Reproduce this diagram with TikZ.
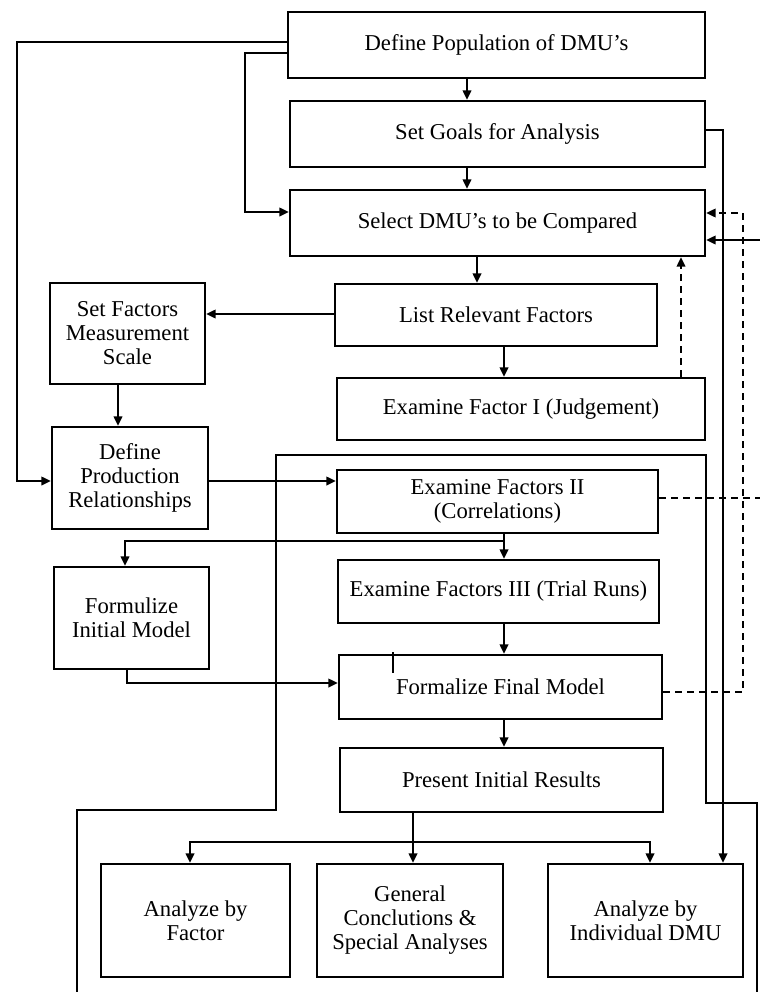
\documentclass[tikz,border=0pt]{standalone}
\usepackage{fontspec}
\setmainfont{Liberation Serif}
\usetikzlibrary{arrows.meta}
\begin{document}
\begin{tikzpicture}[x=0.75pt,y=-0.75pt,
  box/.style={draw,line width=1.9pt,align=center,inner sep=2pt,
    font=\fontsize{17}{18}\selectfont},
  conn/.style={line width=1.1pt},
  arr/.style={conn,-{Triangle[length=7pt,width=6.5pt]}},
  dashln/.style={conn,dash pattern=on 5pt off 4pt},
  thinln/.style={line width=0.9pt}]
\useasboundingbox (0,0) rectangle (760,992);
% boxes
\node[box,minimum width=312.75pt,minimum height=49.5pt] (pop) at (496.5,45) {Define Population of DMU’s};
\node[box,minimum width=311.25pt,minimum height=49.5pt] (goals) at (497.5,134) {Set Goals for Analysis};
\node[box,minimum width=311.25pt,minimum height=49.5pt] (sel) at (497.5,223) {Select DMU’s to be Compared};
\node[box,minimum width=241.5pt,minimum height=46.5pt] (list) at (496,315) {List Relevant Factors};
\node[box,minimum width=276pt,minimum height=46.5pt] (ex1) at (521,409) {Examine Factor I (Judgement)};
\node[box,minimum width=240.75pt,minimum height=47.25pt] (ex2) at (497.5,501.5) {Examine Factors II\\(Correlations)};
\node[box,minimum width=240.75pt,minimum height=47.25pt] (ex3) at (498.5,591.5) {Examine Factors III (Trial Runs)};
\node[box,minimum width=242.25pt,minimum height=48pt] (final) at (500.5,687) {Formalize Final Model};
\node[box,minimum width=242.25pt,minimum height=48pt] (pres) at (501.5,780) {Present Initial Results};
\node[box,minimum width=141.75pt,minimum height=84.75pt] (afac) at (195.5,920.5) {Analyze by\\Factor};
\node[box,minimum width=139.5pt,minimum height=84.75pt] (gen) at (410,920.5) {General\\Conclutions \&\\Special Analyses};
\node[box,minimum width=146.25pt,minimum height=84.75pt] (aind) at (645.5,920.5) {Analyze by\\Individual DMU};
\node[box,minimum width=116.25pt,minimum height=75.75pt] (sfm) at (127.5,333.5) {Set Factors\\Measurement\\Scale};
\node[box,minimum width=117pt,minimum height=76.5pt] (dpr) at (130,478) {Define\\Production\\Relationships};
\node[box,minimum width=116.25pt,minimum height=76.5pt] (fim) at (131.5,618) {Formulize\\Initial Model};
% helper coordinates
\coordinate (split) at (413,842);
\coordinate (j2) at (504,541);
\coordinate (r2) at (760,498);
\coordinate (r1) at (760,240);
% main vertical chain
\draw[arr] (pop.south -| 467,0) -- (goals.north -| 467,0);
\draw[arr] (goals.south -| 467,0) -- (sel.north -| 467,0);
\draw[arr] (sel.south -| 477,0) -- (list.north -| 477,0);
\draw[arr] (list.south -| 504,0) -- (ex1.north -| 504,0);
\draw[arr] (ex2.south -| 504,0) -- (ex3.north -| 504,0);
\draw[arr] (ex3.south -| 504,0) -- (final.north -| 504,0);
\draw[arr] (final.south -| 504,0) -- (pres.north -| 504,0);
% results split
\draw[conn] (pres.south -| split) -- (split);
\draw[arr] (split) -- (gen.north -| split);
\draw[arr] (split) -| (afac.north -| 190,0);
\draw[arr] (split) -| (aind.north -| 650,0);
% left side
\draw[arr] (pop.west |- 0,42) -- (17,42) |- (dpr.west |- 0,481);
\draw[arr] (pop.west |- 0,53) -- (245,53) |- (sel.west |- 0,212);
\draw[arr] (list.west |- 0,314) -- (sfm.east |- 0,314);
\draw[arr] (sfm.south -| 118,0) -- (dpr.north -| 118,0);
\draw[arr] (dpr.east |- 0,481) -- (ex2.west |- 0,481);
\draw[arr] (j2) -| (fim.north -| 125,0);
\draw[arr] (fim.south -| 127,0) |- (final.west |- 0,683);
% right side
\draw[arr] (goals.east |- 0,130) -| (aind.north -| 723,0);
\draw[arr] (r1) -- (sel.east |- 0,240);
\draw[dashln,-{Triangle[length=7pt,width=6.5pt]}] (ex1.north -| 681,0) -- (sel.south -| 681,0);
\draw[dashln] (ex2.east |- 0,498) -- (r2);
\draw[dashln,-{Triangle[length=7pt,width=6.5pt]}] (final.east |- 0,692) -- (743,692) -- (743,213) -- (sel.east |- 0,213);
% frame line
\draw[thinln] (77,992) -- (77,810) -- (276,810) -- (276,455) -- (706,455) -- (706,803) -- (757,803) -- (757,992);
% small tick
\draw[thinln] (393,652) -- (393,673);
\end{tikzpicture}
\end{document}
